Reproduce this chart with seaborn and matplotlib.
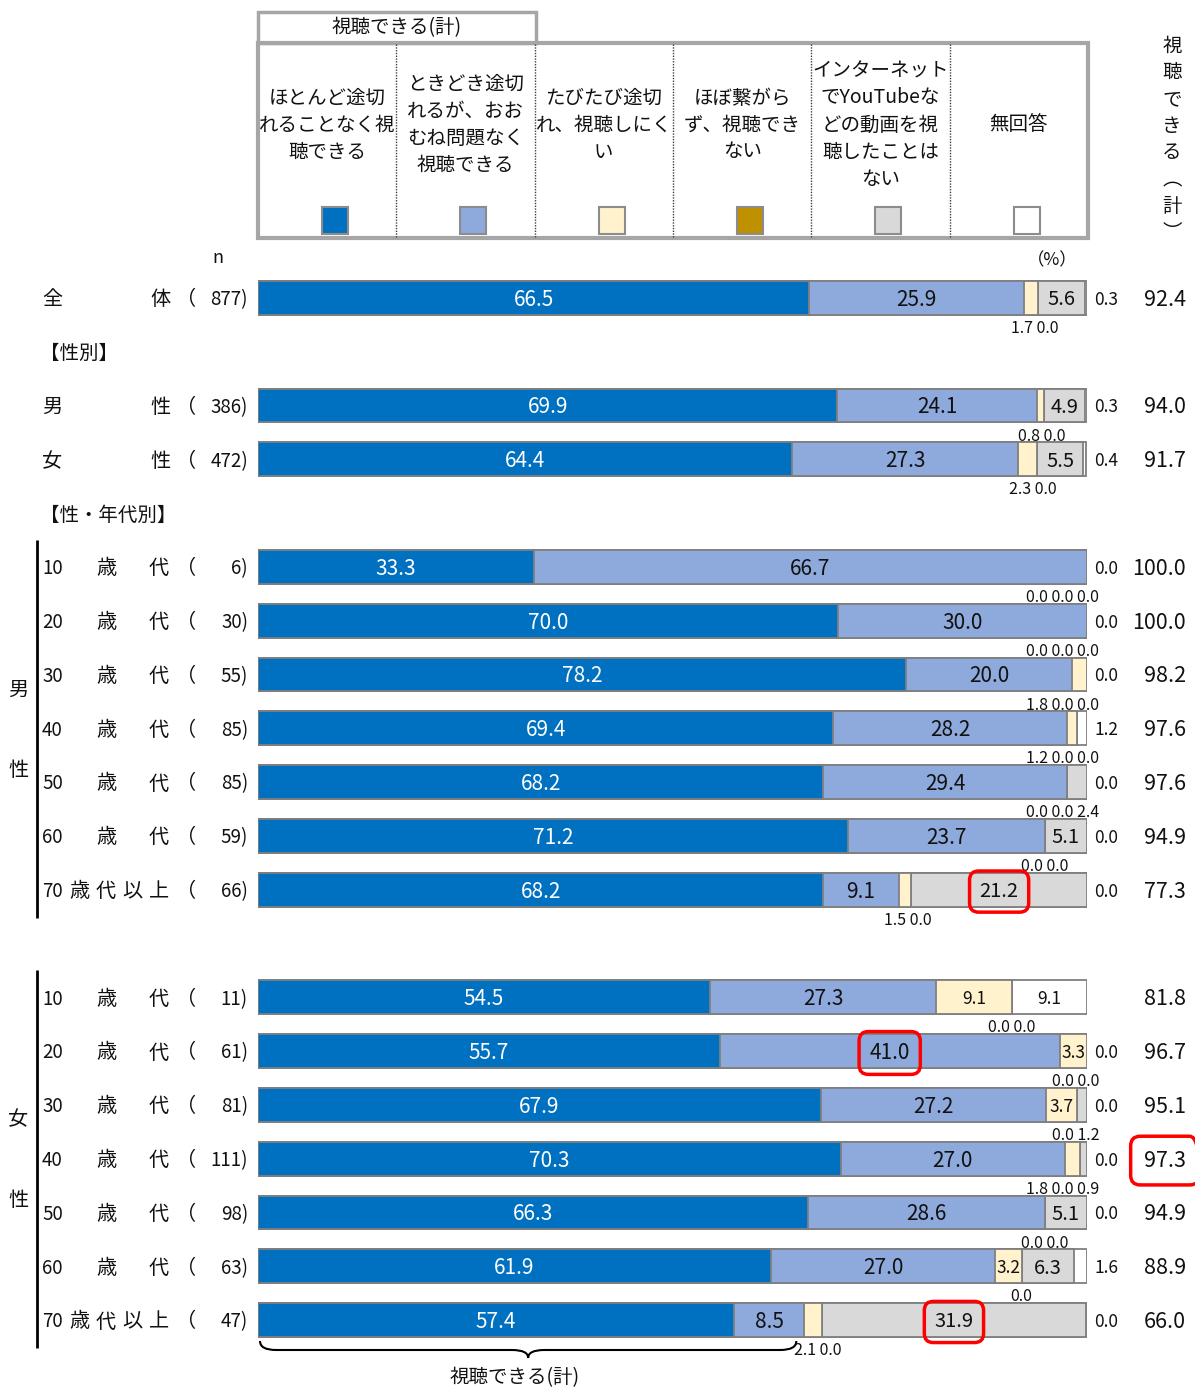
import numpy as np
import pandas as pd
import matplotlib
matplotlib.use("Agg")
import matplotlib.pyplot as plt
import matplotlib.transforms as mtransforms
from matplotlib.patches import Rectangle, PathPatch
from matplotlib.path import Path
import seaborn as sns

# ---------------- data ----------------
row_keys = ["全体", "男性", "女性",
            "男性10歳代", "男性20歳代", "男性30歳代", "男性40歳代", "男性50歳代", "男性60歳代", "男性70歳代以上",
            "女性10歳代", "女性20歳代", "女性30歳代", "女性40歳代", "女性50歳代", "女性60歳代", "女性70歳代以上"]
row_slots = [0, 2, 3, 5, 6, 7, 8, 9, 10, 11, 13, 14, 15, 16, 17, 18, 19]
n_counts = [877, 386, 472, 6, 30, 55, 85, 85, 59, 66, 11, 61, 81, 111, 98, 63, 47]

smooth = [66.5, 69.9, 64.4, 33.3, 70.0, 78.2, 69.4, 68.2, 71.2, 68.2, 54.5, 55.7, 67.9, 70.3, 66.3, 61.9, 57.4]
mostly_ok = [25.9, 24.1, 27.3, 66.7, 30.0, 20.0, 28.2, 29.4, 23.7, 9.1, 27.3, 41.0, 27.2, 27.0, 28.6, 27.0, 8.5]
often_cut = [1.7, 0.8, 2.3, 0.0, 0.0, 1.8, 1.2, 0.0, 0.0, 1.5, 9.1, 3.3, 3.7, 1.8, 0.0, 3.2, 2.1]
no_connect = [0.0, 0.0, 0.0, 0.0, 0.0, 0.0, 0.0, 0.0, 0.0, 0.0, 0.0, 0.0, 0.0, 0.0, 0.0, 0.0, 0.0]
never_watched = [5.6, 4.9, 5.5, 0.0, 0.0, 0.0, 0.0, 2.4, 5.1, 21.2, 0.0, 0.0, 1.2, 0.9, 5.1, 6.3, 31.9]
no_answer = [0.3, 0.3, 0.4, 0.0, 0.0, 0.0, 1.2, 0.0, 0.0, 0.0, 9.1, 0.0, 0.0, 0.0, 0.0, 1.6, 0.0]
can_watch_total = [92.4, 94.0, 91.7, 100.0, 100.0, 98.2, 97.6, 97.6, 94.9, 77.3,
                   81.8, 96.7, 95.1, 97.3, 94.9, 88.9, 66.0]

header_lines = [["ほとんど途切", "れることなく視", "聴できる"],
                ["ときどき途切", "れるが、おお", "むね問題なく", "視聴できる"],
                ["たびたび途切", "れ、視聴しにく", "い"],
                ["ほぼ繋がら", "ず、視聴でき", "ない"],
                ["インターネット", "でYouTubeな", "どの動画を視", "聴したことは", "ない"],
                ["無回答"]]
colors = ["#0070C0", "#8EA9DB", "#FFF2CC", "#BF9000", "#D9D9D9", "#FFFFFF"]

# highlighted labels: (row, series index) ; series index 6 = total column
highlights = [("男性70歳代以上", 4), ("女性20歳代", 1), ("女性70歳代以上", 4), ("女性40歳代", 6)]

# ---------------- setup ----------------
W, H = 1195, 1387
sns.set_theme(style="white")
plt.rcParams["font.family"] = ["Liberation Sans Narrow", "Noto Sans CJK JP", "DejaVu Sans"]
TXT = "#111111"
EDGE = "#7F7F7F"

values = np.array([smooth, mostly_ok, often_cut, no_connect, never_watched, no_answer]).T
cum = np.cumsum(values, axis=1)

slot_to_key = {s: k for s, k in zip(row_slots, row_keys)}
order = [slot_to_key.get(s, " " * (s + 1)) for s in range(20)]

df = pd.DataFrame(cum, columns=[f"c{k}" for k in range(6)])
df["row"] = row_keys

fig = plt.figure(figsize=(W / 100, H / 100), dpi=100)
deco = fig.add_axes([0, 0, 1, 1], zorder=0)
deco.set_xlim(0, W)
deco.set_ylim(H, 0)
deco.axis("off")

BAR_L, BAR_R = 258, 1087
TOP, BOT = 271, 1347
ax = fig.add_axes([BAR_L / W, 1 - BOT / H, (BAR_R - BAR_L) / W, (BOT - TOP) / H], zorder=1)
ax.patch.set_visible(False)

# stacked bars: cumulative totals drawn from the widest layer down
for k in range(5, -1, -1):
    sns.barplot(data=df, x=f"c{k}", y="row", order=order, orient="h", color=colors[k],
                saturation=1, edgecolor=EDGE, linewidth=1.3, width=0.63, ax=ax)

ax.set_xlim(0, 100)
ax.set_ylim(19.5, -0.5)
ax.set_xlabel("")
ax.set_ylabel("")
ax.set_xticks([])
ax.set_yticks([])
for sp in ax.spines.values():
    sp.set_visible(False)


def px2x(px):
    return (px - BAR_L) / (BAR_R - BAR_L) * 100


left_tr = mtransforms.blended_transform_factory(deco.transData, ax.transData)
hl = set(highlights)
red_box = dict(boxstyle="round,pad=0.5,rounding_size=0.45", ec="#FF0000", fc="none", lw=2.5)
DY = 0.035  # small downward nudge so digits sit on the bar centre

fig.canvas.draw()
renderer = fig.canvas.get_renderer()

for i, key in enumerate(row_keys):
    s = row_slots[i]
    below = []
    for k in range(6):
        v = values[i, k]
        left = cum[i, k] - v
        c = left + v / 2
        bb = red_box if (key, k) in hl else None
        if k == 0:
            ax.text(c, s + DY, f"{v:.1f}", ha="center", va="center", color="white", fontsize=15, clip_on=False)
        elif k == 1:
            ax.text(c, s + DY, f"{v:.1f}", ha="center", va="center", color=TXT, fontsize=15, bbox=bb, clip_on=False)
        elif k in (2, 3, 4):
            if v >= 3:
                fs = 14.5 if k == 4 else 12.5
                ax.text(c, s + DY, f"{v:.1f}", ha="center", va="center", color=TXT, fontsize=fs, bbox=bb, clip_on=False)
            else:
                below.append((c, v))
        else:
            if v >= 3:
                ax.text(c, s + DY, f"{v:.1f}", ha="center", va="center", color=TXT, fontsize=12.5, clip_on=False)
            else:
                ax.text(px2x(1106), s + DY, f"{v:.1f}", ha="center", va="center", color=TXT, fontsize=12.5, clip_on=False)
    if below:
        xc = np.mean([b[0] for b in below])
        t = ax.text(xc, s + 0.57, " ".join(f"{b[1]:.1f}" for b in below), ha="center", va="center",
                    color=TXT, fontsize=11.5, clip_on=False)
        ext = t.get_window_extent(renderer)
        limit = 1099
        if ext.x1 > limit:
            t.set_x(xc - px2x(ext.x1) + px2x(limit))
    # total column (right aligned)
    if (key, 6) in hl:
        ax.text(px2x(1165), s + DY, f"{can_watch_total[i]:.1f}", ha="center", va="center", color=TXT,
                fontsize=15.5, clip_on=False,
                bbox=dict(red_box, boxstyle="round,pad=0.62,rounding_size=0.45"))
    else:
        ax.text(px2x(1186), s + DY, f"{can_watch_total[i]:.1f}", ha="right", va="center", color=TXT,
                fontsize=15.5, clip_on=False)

# ---------------- row labels ----------------
LFS = 14.5   # kanji
NFS = 13.5   # digits


def put(txt, x, s, ha="center", fs=LFS):
    deco.text(x, s + DY, txt, transform=left_tr, ha=ha, va="center", fontsize=fs, color=TXT)


for i, key in enumerate(row_keys):
    s = row_slots[i]
    if i < 3:
        put(key[0], 52, s)
        put(key[1], 160, s)
    else:
        put(key[2:4], 42, s, ha="left", fs=NFS)
        if "以上" in key:
            for ch, x in zip("歳代以上", [79, 106, 132, 159]):
                put(ch, x, s)
        else:
            put("歳", 106, s)
            put("代", 159, s)
    put("（", 186, s)
    put(f"{n_counts[i]})", 248, s, ha="right", fs=NFS)

deco.text(40, 1 + DY, "【性別】", transform=left_tr, ha="left", va="center", fontsize=LFS - 0.5, color=TXT)
deco.text(40, 4 + DY, "【性・年代別】", transform=left_tr, ha="left", va="center", fontsize=LFS - 0.5, color=TXT)

# gender brackets on the far left
for y0, y1, chars, ys in [(540, 918, "男性", (690, 770)), (970, 1348, "女性", (1120, 1200))]:
    deco.plot([37, 37], [y0, y1], color="black", lw=2, solid_capstyle="butt")
    for ch, y in zip(chars, ys):
        deco.text(18, y, ch, ha="center", va="center", fontsize=LFS, color=TXT)

deco.text(218, 258, "n", ha="center", va="center", fontsize=13, color=TXT)
deco.text(1052, 260, "（%）", ha="center", va="center", fontsize=12.5, color=TXT,
          family=["Noto Sans CJK JP"])

# ---------------- legend table ----------------
HF = 14
deco.add_patch(Rectangle((258, 43), 830, 195, fill=False, ec="#A6A6A6", lw=3, zorder=2))
deco.add_patch(Rectangle((258, 12), 278, 31, fill=False, ec="#A6A6A6", lw=2.5, zorder=2))
deco.text(397, 28, "視聴できる(計)", ha="center", va="center", fontsize=HF, color=TXT,
          family=["Noto Sans CJK JP"])
col_w = 830 / 6
for j in range(1, 6):
    x = 258 + j * col_w
    deco.plot([x, x], [44, 237], color="#404040", lw=1, ls=(0, (1, 1)))
for j, lines in enumerate(header_lines):
    cx = 258 + (j + 0.5) * col_w
    n = len(lines)
    for li, line in enumerate(lines):
        y = 125 + (li - (n - 1) / 2) * 27
        deco.text(cx, y, line, ha="center", va="center", fontsize=HF, color=TXT)
    deco.add_patch(Rectangle((cx + 8 - 13, 207), 26, 27, fc=colors[j], ec="#8C8C8C", lw=1.5, zorder=3))

# vertical header of the total column
for j, ch in enumerate("視聴できる︵計︶"):
    deco.text(1172, 46 + j * 26.7, ch, ha="center", va="center", fontsize=HF, color=TXT)

# ---------------- brace under the last row ----------------
x0 = 260
x1 = BAR_L + (cum[-1, 1]) / 100 * (BAR_R - BAR_L) - 8
xc = (x0 + x1) / 2
yt, ym, yp = 1341, 1350, 1358
verts = [(x0, yt), (x0, ym), (x0 + 16, ym), (xc - 16, ym), (xc, ym), (xc, yp),
         (xc, ym), (xc + 16, ym), (x1 - 16, ym), (x1, ym), (x1, yt)]
codes = [Path.MOVETO, Path.CURVE3, Path.CURVE3, Path.LINETO, Path.CURVE3, Path.CURVE3,
         Path.CURVE3, Path.CURVE3, Path.LINETO, Path.CURVE3, Path.CURVE3]
deco.add_patch(PathPatch(Path(verts, codes), fill=False, ec="black", lw=1.5))
deco.text(xc - 13, 1378, "視聴できる(計)", ha="center", va="center", fontsize=14, color=TXT,
          family=["Noto Sans CJK JP"])

fig.savefig("out.png", dpi=100)
